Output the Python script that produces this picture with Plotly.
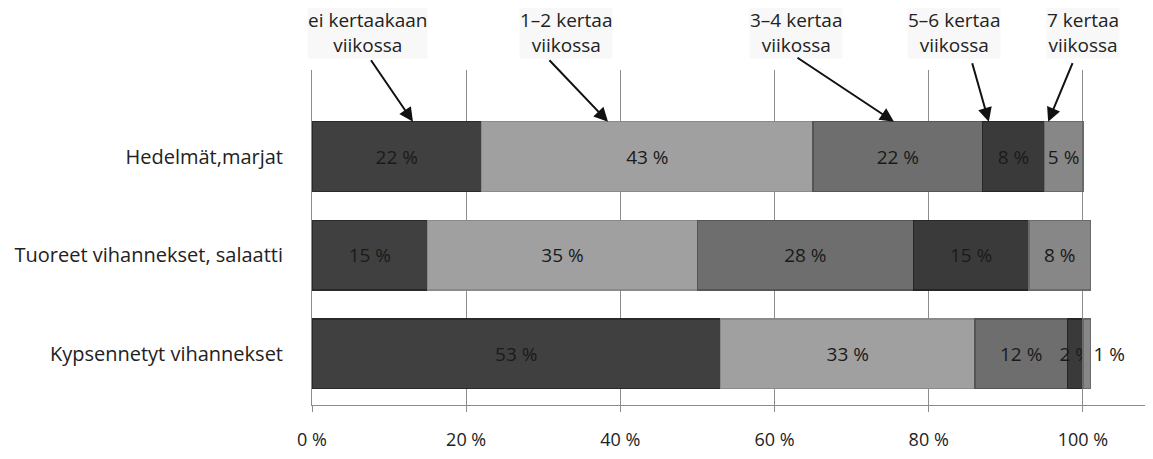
import plotly.graph_objects as go

categories = ["Kypsennetyt vihannekset", "Tuoreet vihannekset, salaatti", "Hedelmät,marjat"]
series_names = ["ei kertaakaan<br>viikossa", "1–2 kertaa<br>viikossa", "3–4 kertaa<br>viikossa",
                "5–6 kertaa<br>viikossa", "7 kertaa<br>viikossa"]
ei_kertaakaan = [53, 15, 22]
kertaa_1_2 = [33, 35, 43]
kertaa_3_4 = [12, 28, 22]
kertaa_5_6 = [2, 15, 8]
kertaa_7 = [1, 8, 5]
tick_vals = [0, 0.2, 0.4, 0.6, 0.8, 1.0]
tick_text = ["0 %", "20 %", "40 %", "60 %", "80 %", "100 %"]

series = [ei_kertaakaan, kertaa_1_2, kertaa_3_4, kertaa_5_6, kertaa_7]
colors = ["#404040", "#a0a0a0", "#6e6e6e", "#3a3a3a", "#878787"]
edge = ["#2a2a2a", "#8a8a8a", "#555555", "#262626", "#6a6a6a"]

FONT = "Open Sans"
fig = go.Figure()
for i, vals in enumerate(series):
    tpos = ["inside"] * len(vals)
    if i == 4:
        tpos = ["outside" if v < 3 else "inside" for v in vals]
    fig.add_trace(go.Bar(
        y=categories, x=[v / 100 for v in vals], orientation="h",
        name=series_names[i].replace("<br>", " "),
        marker=dict(color=colors[i], line=dict(color=edge[i], width=1.5)),
        text=[f"{v} %" for v in vals], textposition=tpos, textangle=0,
        insidetextanchor="middle", constraintext="none",
        textfont=dict(family=FONT, size=19, color="#1a1a1a"),
        width=0.71, cliponaxis=False,
    ))

fig.update_layout(
    barmode="stack", width=1153, height=459, showlegend=False,
    plot_bgcolor="white", paper_bgcolor="white",
    margin=dict(l=304, r=8, t=62, b=62),
    font=dict(family=FONT, size=19, color="#222"),
    xaxis=dict(range=[0, 1.091], tickvals=tick_vals, ticktext=tick_text,
               showgrid=True, gridcolor="#8c8c8c", gridwidth=1,
               showline=True, linecolor="#8c8c8c", linewidth=1,
               ticks="outside", ticklen=6, tickcolor="#8c8c8c",
               ticklabelstandoff=12, zeroline=False, automargin=False,
               tickfont=dict(family=FONT, size=18, color="#222")),
    yaxis=dict(range=[-0.52, 2.88], showline=True, linecolor="#8c8c8c", linewidth=1,
               ticks="", ticklabelstandoff=24, automargin=False,
               tickfont=dict(family=FONT, size=20, color="#222")),
)

# label annotations with arrows
label_x = [0.072, 0.33, 0.628, 0.833, 1.0]
tip_x = [0.131, 0.384, 0.755, 0.878, 0.955]
arrow_ax = [-43, -60, -98, -17, 25]
arrow_ay = [-63, -63, -65, -60, -60]
for i in range(5):
    fig.add_annotation(x=label_x[i], xref="x", y=1.113, yref="paper",
                       text=series_names[i], showarrow=False,
                       font=dict(family=FONT, size=19, color="#222"),
                       bgcolor="#f8f8f8", borderpad=0, yanchor="middle")
    fig.add_annotation(x=tip_x[i], xref="x", y=2.355, yref="y",
                       ax=arrow_ax[i], ay=arrow_ay[i], text="",
                       showarrow=True, arrowhead=2, arrowsize=1.4, arrowwidth=2,
                       arrowcolor="#111")

fig.write_html("out.html")
